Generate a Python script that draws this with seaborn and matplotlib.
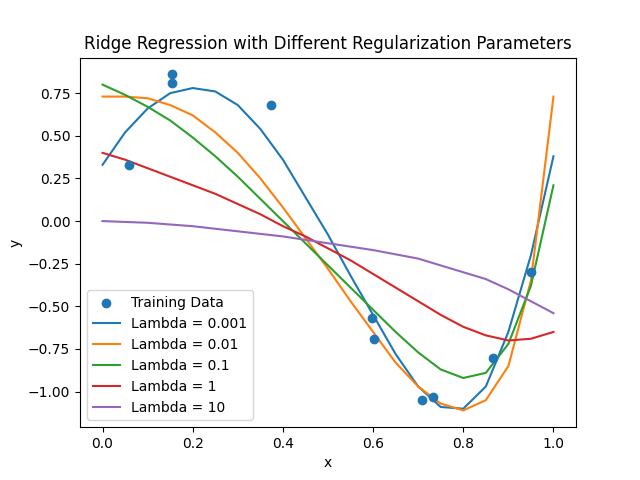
import numpy as np
import pandas as pd
import matplotlib
matplotlib.use("Agg")
import matplotlib.pyplot as plt
import seaborn as sns

train_x = [0.058, 0.155, 0.155, 0.373, 0.598, 0.601, 0.709, 0.732, 0.867, 0.950]
train_y = [0.33, 0.86, 0.81, 0.68, -0.57, -0.69, -1.05, -1.03, -0.80, -0.30]

grid_x = [0.0, 0.05, 0.1, 0.15, 0.2, 0.25, 0.3, 0.35, 0.4, 0.45, 0.5,
          0.55, 0.6, 0.65, 0.7, 0.75, 0.8, 0.85, 0.9, 0.95, 1.0]
fit_0001 = [0.33, 0.52, 0.66, 0.75, 0.78, 0.76, 0.68, 0.54, 0.36, 0.14, -0.08,
            -0.32, -0.55, -0.78, -0.97, -1.09, -1.10, -0.97, -0.65, -0.20, 0.38]
fit_001 = [0.73, 0.73, 0.72, 0.68, 0.62, 0.52, 0.40, 0.25, 0.08, -0.10, -0.28,
           -0.47, -0.65, -0.83, -0.97, -1.07, -1.11, -1.05, -0.85, -0.35, 0.73]
fit_01 = [0.80, 0.74, 0.67, 0.59, 0.49, 0.38, 0.26, 0.13, 0.00, -0.13, -0.26,
          -0.39, -0.52, -0.65, -0.77, -0.87, -0.92, -0.89, -0.72, -0.38, 0.21]
fit_1 = [0.40, 0.36, 0.31, 0.26, 0.21, 0.16, 0.10, 0.04, -0.03, -0.09, -0.16,
         -0.23, -0.31, -0.39, -0.47, -0.55, -0.62, -0.67, -0.70, -0.69, -0.65]
fit_10 = [0.0, -0.005, -0.01, -0.02, -0.03, -0.045, -0.06, -0.075, -0.09, -0.11, -0.13,
          -0.15, -0.17, -0.195, -0.22, -0.26, -0.30, -0.34, -0.40, -0.47, -0.54]

fits = {"Lambda = 0.001": fit_0001, "Lambda = 0.01": fit_001,
        "Lambda = 0.1": fit_01, "Lambda = 1": fit_1, "Lambda = 10": fit_10}

fig, ax = plt.subplots(figsize=(6.4, 4.8), dpi=100)
colors = sns.color_palette("tab10")
ax.scatter(train_x, train_y, color=colors[0], label="Training Data", zorder=3)
for i, (name, vals) in enumerate(fits.items()):
    sns.lineplot(x=grid_x, y=vals, ax=ax, color=colors[i], label=name)

ax.set_title("Ridge Regression with Different Regularization Parameters")
ax.set_xlabel("x")
ax.set_ylabel("y")
ax.legend(loc="lower left")
plt.savefig("out.png")
